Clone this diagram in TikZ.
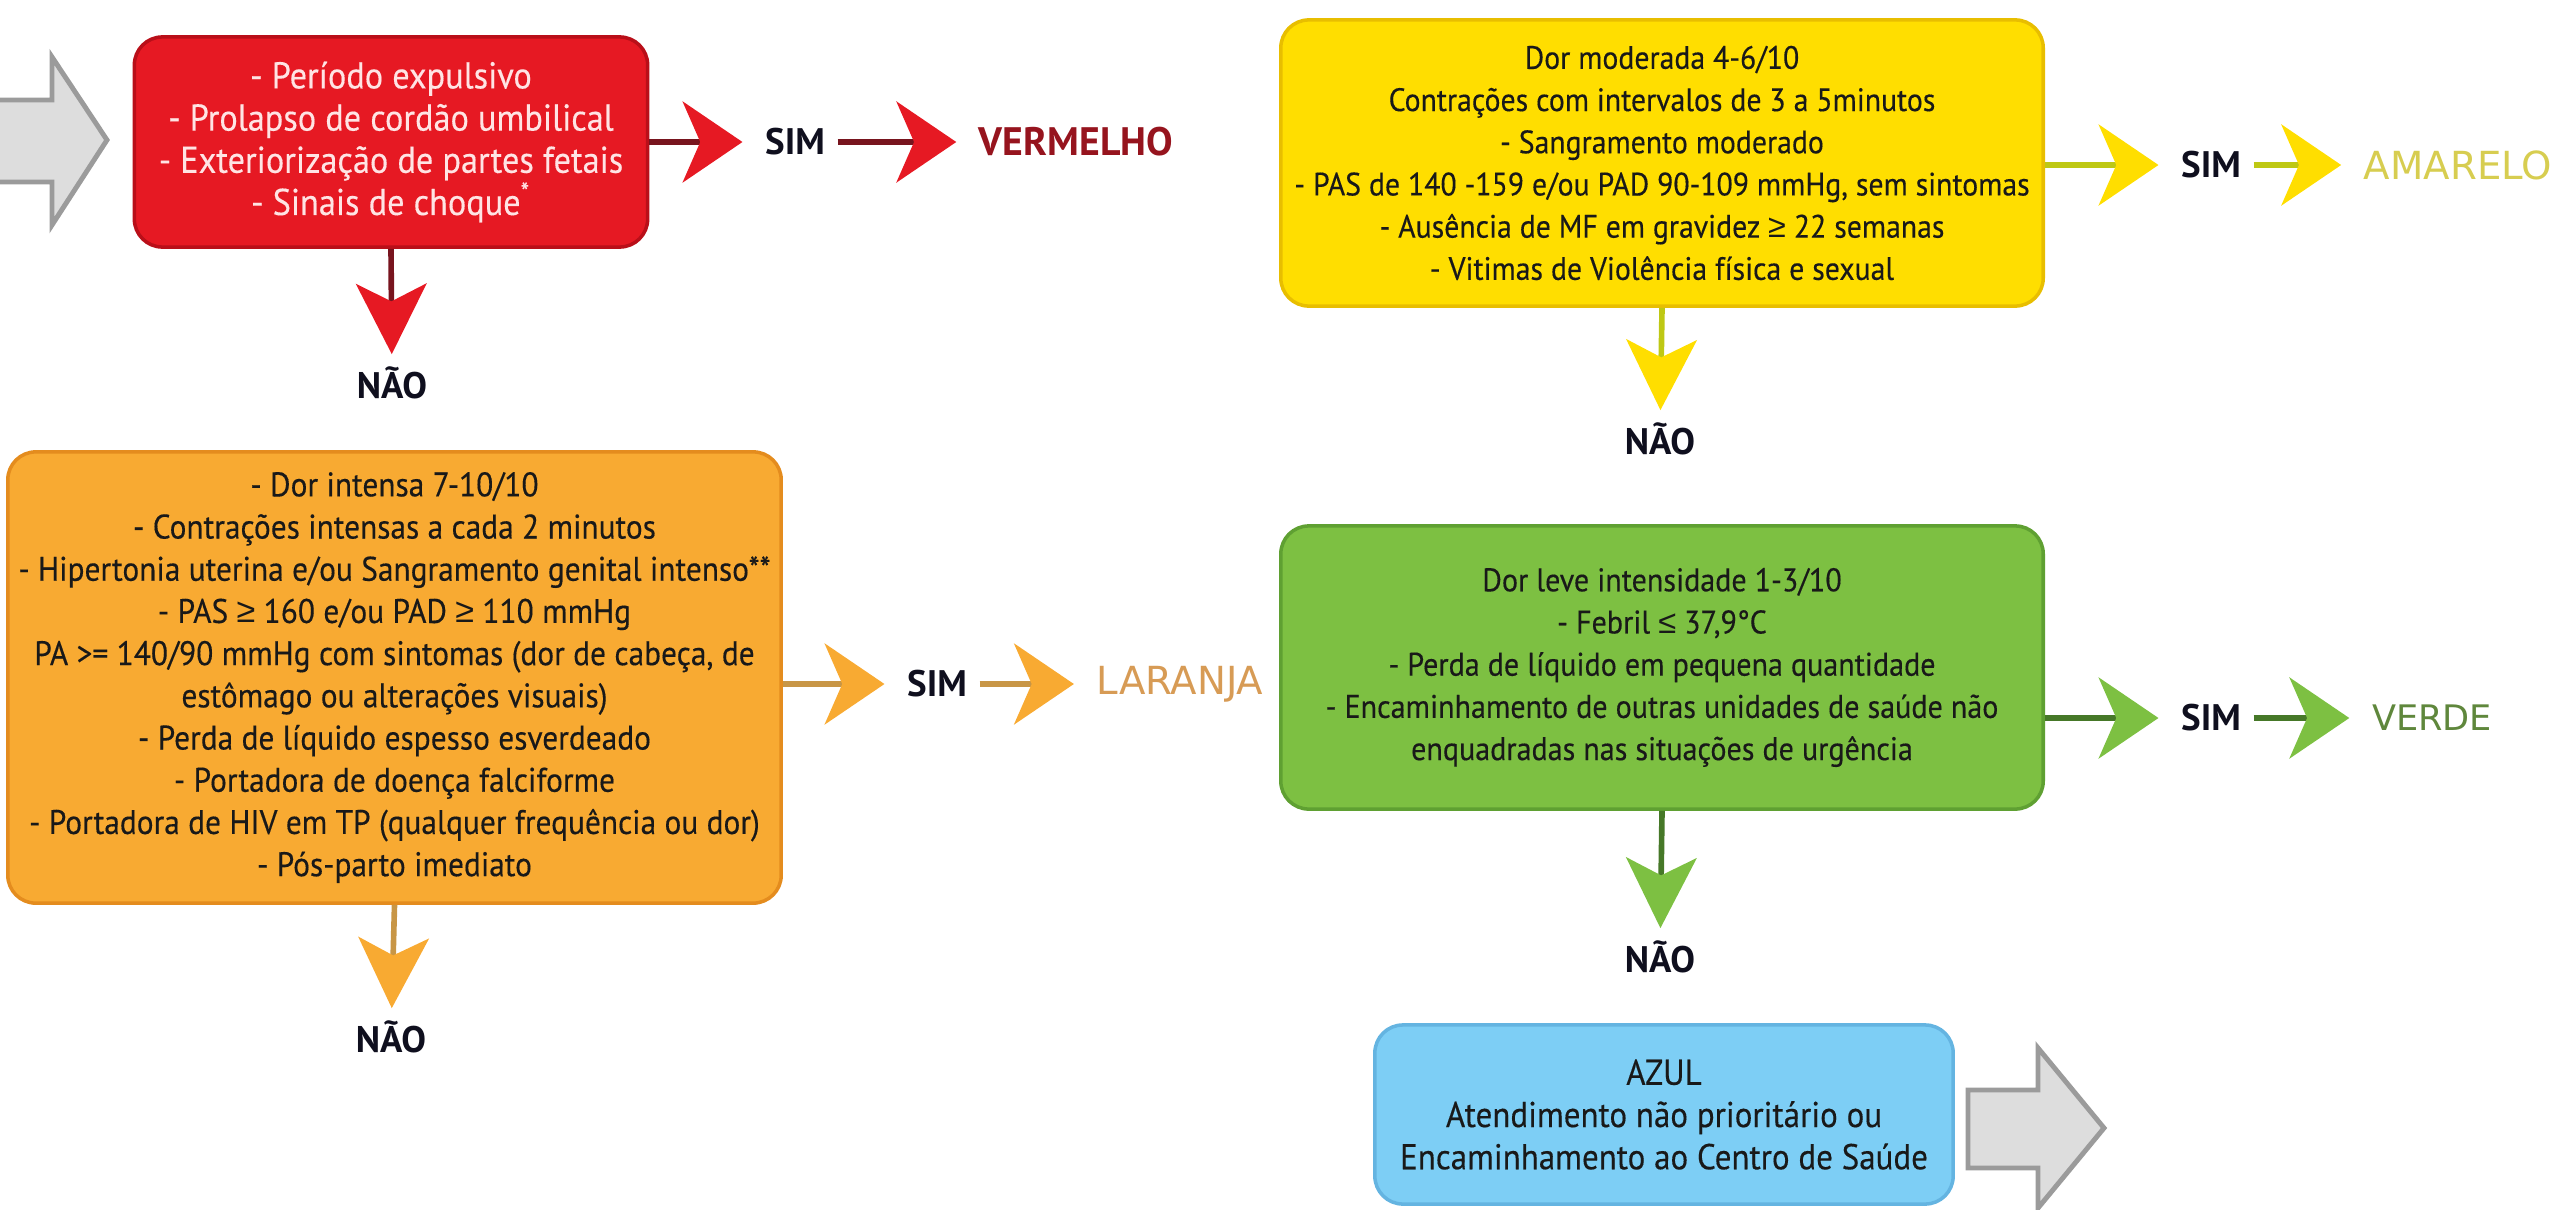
\documentclass[tikz,border=0pt]{standalone}
\usepackage{fontspec}
\setmainfont{PT Sans}[FakeStretch=0.92, FakeBold=0.3]
\newfontfamily\labelfont{PT Sans}
\newfontfamily\widefont{DejaVu Sans}
\newfontfamily\symfont{Liberation Sans}
\newcommand{\geqs}{{\symfont ≥}}
\newcommand{\leqs}{{\symfont ≤}}
\usetikzlibrary{arrows.meta}
\definecolor{redfill}{RGB}{230,25,35}
\definecolor{redline}{RGB}{185,15,25}
\definecolor{redshaft}{RGB}{120,20,30}
\definecolor{redtxt}{RGB}{150,20,30}
\definecolor{yelfill}{RGB}{255,222,0}
\definecolor{yelline}{RGB}{232,190,0}
\definecolor{yelshaft}{RGB}{190,200,20}
\definecolor{yeltxt}{RGB}{215,205,80}
\definecolor{orafill}{RGB}{248,170,50}
\definecolor{oraline}{RGB}{228,140,30}
\definecolor{orashaft}{RGB}{200,150,70}
\definecolor{oratxt}{RGB}{215,155,85}
\definecolor{grefill}{RGB}{125,192,66}
\definecolor{greline}{RGB}{95,160,50}
\definecolor{greshaft}{RGB}{70,120,40}
\definecolor{gretxt}{RGB}{95,135,60}
\definecolor{blufill}{RGB}{125,206,245}
\definecolor{bluline}{RGB}{100,180,225}
\definecolor{grayfill}{RGB}{221,221,221}
\definecolor{grayline}{RGB}{155,155,155}
\definecolor{darktxt}{RGB}{25,25,25}
\definecolor{pinktxt}{RGB}{255,228,228}
\definecolor{yesno}{RGB}{15,15,30}
\begin{document}
\begin{tikzpicture}[x=0.01cm, y=-0.01cm,
  box/.style 2 args={rounded corners=0.28cm, fill=#1, draw=#2, line width=1pt, align=center,
    inner sep=0pt, text=darktxt},
  answer/.style={font=\labelfont\fontsize{10.5}{12}\selectfont\bfseries, text=yesno, inner sep=0.12cm},
  level/.style={text=#1, inner sep=0.12cm},
  flow/.style 2 args={line width=1.6pt, draw=#1, shorten >=0.1cm,
    -{Stealth[length=17pt, width=23pt, inset=5pt, color=#2]}},
  down/.style 2 args={line width=1.6pt, draw=#1,
    -{Stealth[length=20pt, width=20pt, inset=5pt, color=#2]}},
  grayarrow/.style={fill=grayfill, draw=grayline, line width=1.4pt}]
\useasboundingbox (0,0) rectangle (2552,1209);
\draw[grayarrow] (-10,100) -- (52,100) -- (52,57) -- (107,140) -- (52,225) -- (52,182) -- (-10,182) -- cycle;
\draw[grayarrow] (1968,1090) -- (2038,1090) -- (2038,1048) -- (2104,1128) -- (2038,1208) -- (2038,1168) -- (1968,1168) -- cycle;

\node[box={redfill}{redline}, minimum width=5.13cm, minimum height=2.10cm, text=pinktxt,
  font=\fontsize{10.6}{12}\selectfont] (vermelho) at (391,142)
  {- Período expulsivo\\- Prolapso de cordão umbilical\\- Exteriorização de partes fetais\\- Sinais de choque\textsuperscript{*}};
\node[box={yelfill}{yelline}, minimum width=7.62cm, minimum height=2.86cm,
  font=\fontsize{9.2}{12}\selectfont] (amarelo) at (1662,163)
  {Dor moderada 4-6/10\\Contrações com intervalos de 3 a 5minutos\\- Sangramento moderado\\- PAS de 140 -159 e/ou PAD 90-109 mmHg, sem sintomas\\- Ausência de MF em gravidez \geqs{} 22 semanas\\- Vitimas de Violência física e sexual};
\node[box={orafill}{oraline}, minimum width=7.73cm, minimum height=4.51cm,
  font=\fontsize{9.7}{12}\selectfont] (laranja) at (394.5,677.5)
  {- Dor intensa 7-10/10\\- Contrações intensas a cada 2 minutos\\- Hipertonia uterina e/ou Sangramento genital intenso**\\- PAS \geqs{} 160 e/ou PAD \geqs{} 110 mmHg\\PA >= 140/90 mmHg com sintomas (dor de cabeça, de\\estômago ou alterações visuais)\\- Perda de líquido espesso esverdeado\\- Portadora de doença falciforme\\- Portadora de HIV em TP (qualquer frequência ou dor)\\- Pós-parto imediato};
\node[box={grefill}{greline}, minimum width=7.62cm, minimum height=2.83cm,
  font=\fontsize{9.3}{12}\selectfont] (verde) at (1662,667.5)
  {Dor leve intensidade 1-3/10\\- Febril \leqs{} 37,9°C\\- Perda de líquido em pequena quantidade\\- Encaminhamento de outras unidades de saúde não\\enquadradas nas situações de urgência};
\node[box={blufill}{bluline}, minimum width=5.78cm, minimum height=1.79cm,
  font=\fontsize{10.2}{12}\selectfont] (azul) at (1664,1114.5)
  {AZUL\\Atendimento não prioritário ou\\Encaminhamento ao Centro de Saúde};

\node[answer] (sim1) at (795,142) {SIM};
\node[level=redtxt, font=\labelfont\fontsize{11.3}{12}\selectfont\bfseries] (res1) at (1076,142) {VERMELHO};
\node[answer] (nao1) at (392,383) {NÃO};
\node[answer] (sim2) at (2211,165) {SIM};
\node[level=yeltxt, font=\widefont\fontsize{11}{12}\selectfont] (res2) at (2458,165) {AMARELO};
\node[answer] (nao2) at (1660,439) {NÃO};
\node[answer] (sim3) at (937,684) {SIM};
\node[level=oratxt, font=\widefont\fontsize{11}{12}\selectfont] (res3) at (1180,684) {LARANJA};
\node[answer] (nao3) at (391,1037) {NÃO};
\node[answer] (sim4) at (2211,718) {SIM};
\node[level=gretxt, font=\widefont\fontsize{10}{12}\selectfont] (res4) at (2432,718) {VERDE};
\node[answer] (nao4) at (1660,957) {NÃO};

\draw[flow={redshaft}{redfill}] (vermelho.east |- sim1) -- (sim1);
\draw[flow={redshaft}{redfill}] (sim1) -- (res1);
\draw[down={redshaft}{redfill}] (vermelho.south) -- (nao1);
\draw[flow={yelshaft}{yelfill}] (amarelo.east |- sim2) -- (sim2);
\draw[flow={yelshaft}{yelfill}] (sim2) -- (res2);
\draw[down={yelshaft}{yelfill}] (amarelo.south) -- (nao2);
\draw[flow={orashaft}{orafill}] (laranja.east |- sim3) -- (sim3);
\draw[flow={orashaft}{orafill}] (sim3) -- (res3);
\draw[down={orashaft}{orafill}] (laranja.south) -- (nao3);
\draw[flow={greshaft}{grefill}] (verde.east |- sim4) -- (sim4);
\draw[flow={greshaft}{grefill}] (sim4) -- (res4);
\draw[down={greshaft}{grefill}] (verde.south) -- (nao4);
\end{tikzpicture}
\end{document}
